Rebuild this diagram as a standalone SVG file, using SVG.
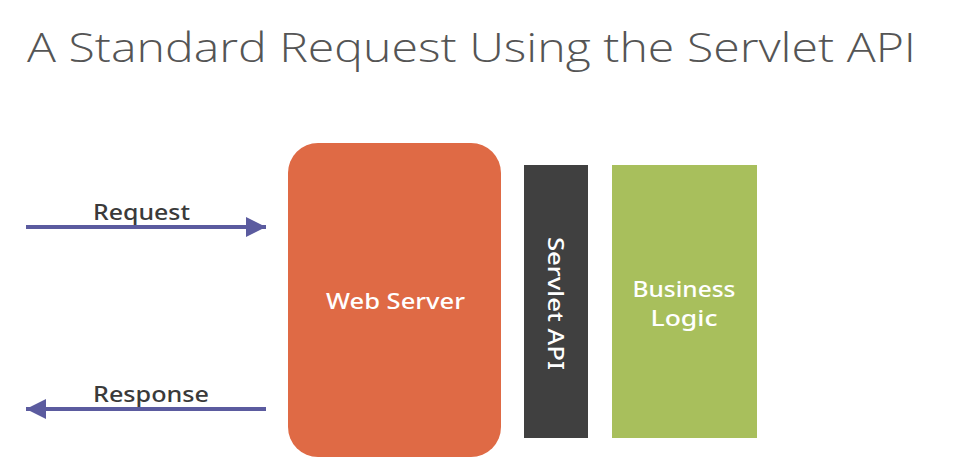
<svg xmlns="http://www.w3.org/2000/svg" width="954" height="476" viewBox="0 0 954 476">
<style>
.title{font-family:"Open Sans","Liberation Sans",sans-serif;font-weight:300;font-size:40px;fill:#555}
.lbl{font-family:"Noto Sans","Liberation Sans",sans-serif;font-weight:500;font-size:21px;fill:#3a3a3a}
.wt{font-family:"Noto Sans","Liberation Sans",sans-serif;font-weight:500;font-size:22px;fill:#fff;text-anchor:middle}
.arr{stroke:#5b5b9f;stroke-width:4;fill:none}
</style>
<defs>
<marker id="ah" viewBox="0 0 10 10" refX="10" refY="5" markerWidth="5" markerHeight="5" markerUnits="strokeWidth" orient="auto">
<path d="M0,0 L10,5 L0,10 z" fill="#5b5b9f"/>
</marker>
</defs>
<rect width="954" height="476" fill="#fff"/>
<text class="title" x="27" y="62" textLength="889" lengthAdjust="spacingAndGlyphs">A Standard Request Using the Servlet API</text>
<g id="connectors">
<line class="arr" x1="26" y1="227" x2="266" y2="227" marker-end="url(#ah)"/>
<line class="arr" x1="266" y1="409" x2="26" y2="409" marker-end="url(#ah)"/>
<text class="lbl" x="93" y="220" textLength="97" lengthAdjust="spacingAndGlyphs">Request</text>
<text class="lbl" x="93" y="402" textLength="116" lengthAdjust="spacingAndGlyphs">Response</text>
</g>
<g id="web-server">
<rect x="288" y="143" width="213" height="314" rx="30" fill="#df6a45"/>
<text class="wt" x="395.5" y="309" textLength="139" lengthAdjust="spacingAndGlyphs">Web Server</text>
</g>
<g id="servlet-api">
<rect x="524" y="165" width="64" height="273" fill="#404040"/>
<text class="wt" transform="translate(548,303.5) rotate(90)" textLength="133" lengthAdjust="spacingAndGlyphs">Servlet API</text>
</g>
<g id="business-logic">
<rect x="612" y="165" width="145" height="273" fill="#a8bf5c"/>
<text class="wt" x="684" y="297" textLength="103" lengthAdjust="spacingAndGlyphs">Business</text>
<text class="wt" x="684" y="326" textLength="67" lengthAdjust="spacingAndGlyphs">Logic</text>
</g>
</svg>
